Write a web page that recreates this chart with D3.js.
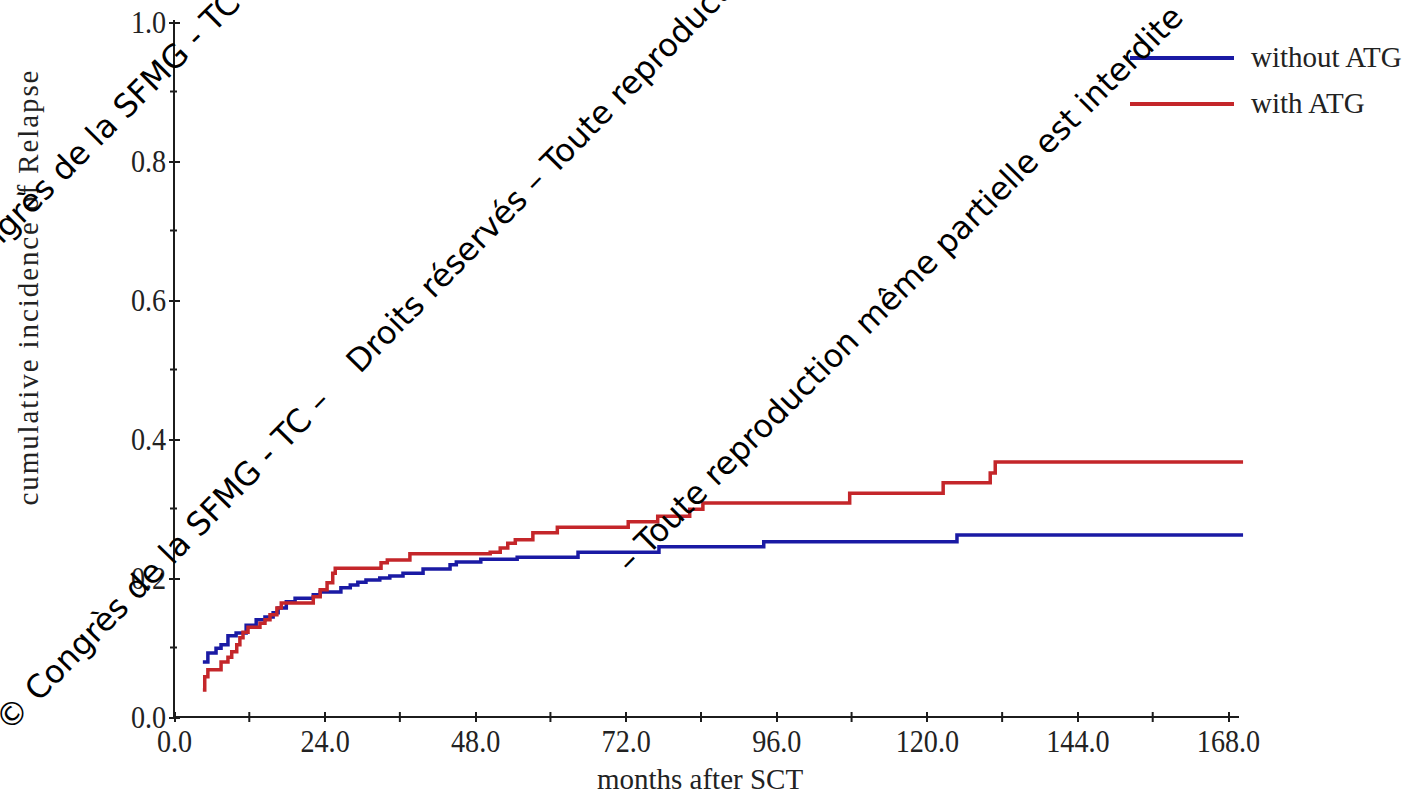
<!DOCTYPE html>
<html>
<head>
<meta charset="utf-8">
<script src="https://cdn.jsdelivr.net/npm/d3@7"></script>
<style>
  body { margin: 0; background: #fff; }
  svg { display: block; }
</style>
</head>
<body>
<svg id="chart" width="1422" height="796"></svg>
<script>
// Axis ticks
const xTicks = [0, 24, 48, 72, 96, 120, 144, 168];
const xMinorTicks = [12, 36, 60, 84, 108, 132, 156];
const yTicks = [0, 0.2, 0.4, 0.6, 0.8, 1.0];
const yMinorTicks = [0.1, 0.3, 0.5, 0.7, 0.9];

// Series
const seriesNames = ["without ATG", "with ATG"];
const seriesColors = ["#1a1aa4", "#c4262a"];

// Cumulative incidence, without ATG (step times in months, value after each step)
const withoutMonths = [4.6, 5.4, 6.7, 7.5, 8.6, 9.9, 11.5, 13.1, 14.5, 15.8, 16.6, 17.9, 19.3, 22.2, 23.3,
  26.6, 28.1, 29.3, 30.6, 32.8, 34.4, 36.5, 39.7, 44.0, 45.0, 48.9, 54.7, 64.4, 77.3, 94.0, 124.8, 170.4];
const withoutValues = [0.079, 0.092, 0.099, 0.104, 0.117, 0.121, 0.132, 0.140, 0.144, 0.150, 0.157, 0.166, 0.171, 0.176, 0.180,
  0.186, 0.190, 0.194, 0.197, 0.200, 0.203, 0.207, 0.213, 0.219, 0.223, 0.227, 0.230, 0.237, 0.245, 0.252, 0.262, 0.262];

// Cumulative incidence, with ATG
const withMonths = [4.6, 4.9, 5.4, 7.5, 8.6, 9.2, 10.0, 10.5, 11.0, 11.8, 13.7, 14.5, 15.3, 16.4, 17.1,
  22.2, 23.3, 24.4, 25.3, 25.7, 33.0, 34.0, 37.6, 50.4, 52.0, 53.2, 54.4, 57.2, 61.1, 72.4, 77.1, 82.2, 84.3,
  107.7, 122.6, 130.1, 130.9, 170.4];
const withValues = [0.039, 0.058, 0.068, 0.079, 0.086, 0.094, 0.104, 0.114, 0.122, 0.129, 0.135, 0.140, 0.147, 0.157, 0.164,
  0.173, 0.183, 0.193, 0.207, 0.214, 0.222, 0.226, 0.235, 0.237, 0.243, 0.250, 0.255, 0.265, 0.273, 0.281, 0.289, 0.299, 0.308,
  0.322, 0.337, 0.351, 0.367, 0.367];

// Text
const xTitle = "months after SCT";
const yTitle = "cumulative incidence of Relapse";
const noticeHead = "© Congrès de la SFMG - TC –";
const noticeBody = "Droits réservés – Toute reproduction même partielle est interdite";
const noticeTail = "– Toute reproduction même partielle est interdite";

const svg = d3.select("#chart");
const serif = "'Liberation Serif', 'Times New Roman', serif";
const axisColor = "#1c1c1c";
const textColor = "#222";

const x = d3.scaleLinear().domain([0, 168]).range([174, 1228]);
const y = d3.scaleLinear().domain([0, 1]).range([717, 22]);
const fmt = d3.format(".1f");

// x axis
const gx = svg.append("g").attr("transform", `translate(0,${y(0)})`)
  .call(d3.axisBottom(x).tickValues(xTicks).tickFormat(fmt).tickSizeOuter(0));
gx.select(".domain").attr("d", `M${x(0)},0H${x(169.8)}`).attr("stroke", axisColor).attr("stroke-width", 2);
gx.selectAll(".tick line").attr("y1", -5).attr("y2", 5).attr("stroke", axisColor).attr("stroke-width", 2);
gx.selectAll(".tick text").attr("y", 35).attr("dy", null).attr("transform", "scale(0.88,1)")
  .style("font-family", serif).style("font-size", "32px").attr("fill", textColor);
gx.selectAll(".minor").data(xMinorTicks).join("line").attr("class", "minor")
  .attr("x1", d => x(d)).attr("x2", d => x(d)).attr("y1", -5).attr("y2", 5)
  .attr("stroke", axisColor).attr("stroke-width", 2);

// y axis
const gy = svg.append("g").attr("transform", `translate(${x(0)},0)`)
  .call(d3.axisLeft(y).tickValues(yTicks).tickFormat(fmt).tickSizeOuter(0));
gy.select(".domain").attr("d", `M0,${y(0)}V${y(1.003)}`).attr("stroke", axisColor).attr("stroke-width", 2);
gy.selectAll(".tick line").attr("x1", -5).attr("x2", 6).attr("stroke", axisColor).attr("stroke-width", 2);
gy.selectAll(".tick text").attr("x", -9).attr("transform", "scale(0.88,1)")
  .style("font-family", serif).style("font-size", "32px").attr("fill", textColor);
gy.selectAll(".minor").data(yMinorTicks).join("line").attr("class", "minor")
  .attr("x1", -4).attr("x2", 3).attr("y1", d => y(d)).attr("y2", d => y(d))
  .attr("stroke", axisColor).attr("stroke-width", 2);
svg.selectAll(".domain, .tick line").attr("shape-rendering", "crispEdges");

// axis titles
svg.append("text").attr("x", 700).attr("y", 789).attr("text-anchor", "middle")
  .style("font-family", serif).style("font-size", "29px").attr("fill", textColor).text(xTitle);
svg.append("text").attr("transform", "translate(38,288) rotate(-90)").attr("text-anchor", "middle")
  .attr("textLength", 435).attr("lengthAdjust", "spacing")
  .style("font-family", serif).style("font-size", "29px").attr("fill", textColor).text(yTitle);

// curves
const series = [
  { name: seriesNames[0], color: seriesColors[0], pts: withoutMonths.map((m, i) => [m, withoutValues[i]]) },
  { name: seriesNames[1], color: seriesColors[1], pts: withMonths.map((m, i) => [m, withValues[i]]) }
];
const line = d3.line().x(d => x(d[0])).y(d => y(d[1])).curve(d3.curveStepAfter);
svg.append("g").selectAll("path").data(series).join("path")
  .attr("d", d => line(d.pts)).attr("fill", "none")
  .attr("stroke", d => d.color).attr("stroke-width", 3.5);

// legend
const lg = svg.append("g").selectAll("g").data(series).join("g")
  .attr("transform", (d, i) => `translate(0,${58 + i * 46})`);
lg.append("line").attr("x1", 1130).attr("x2", 1234).attr("y1", 0).attr("y2", 0)
  .attr("stroke", d => d.color).attr("stroke-width", 4);
lg.append("text").attr("x", 1251).attr("y", 0).attr("dy", "0.32em")
  .style("font-family", serif).style("font-size", "29px").attr("fill", textColor).text(d => d.name);

// copyright notice, drawn diagonally across the plot
const wm = svg.append("g").style("font-family", "'DejaVu Sans', sans-serif").style("font-size", "32px").attr("fill", "#000");
function notice(px, py, angle, parts) {
  const t = wm.append("text").attr("transform", `translate(${px},${py}) rotate(${angle})`);
  parts.forEach(p => t.append("tspan").attr("dx", p.dx || 0).text(p.text));
}
notice(-66, 313, -45, [{ text: noticeHead }, { text: noticeBody, dx: 40 }]);
notice(9, 733, -45.6, [{ text: noticeHead }, { text: noticeBody, dx: 40 }]);
notice(630, 574, -45, [{ text: noticeTail }]);
</script>
</body>
</html>
